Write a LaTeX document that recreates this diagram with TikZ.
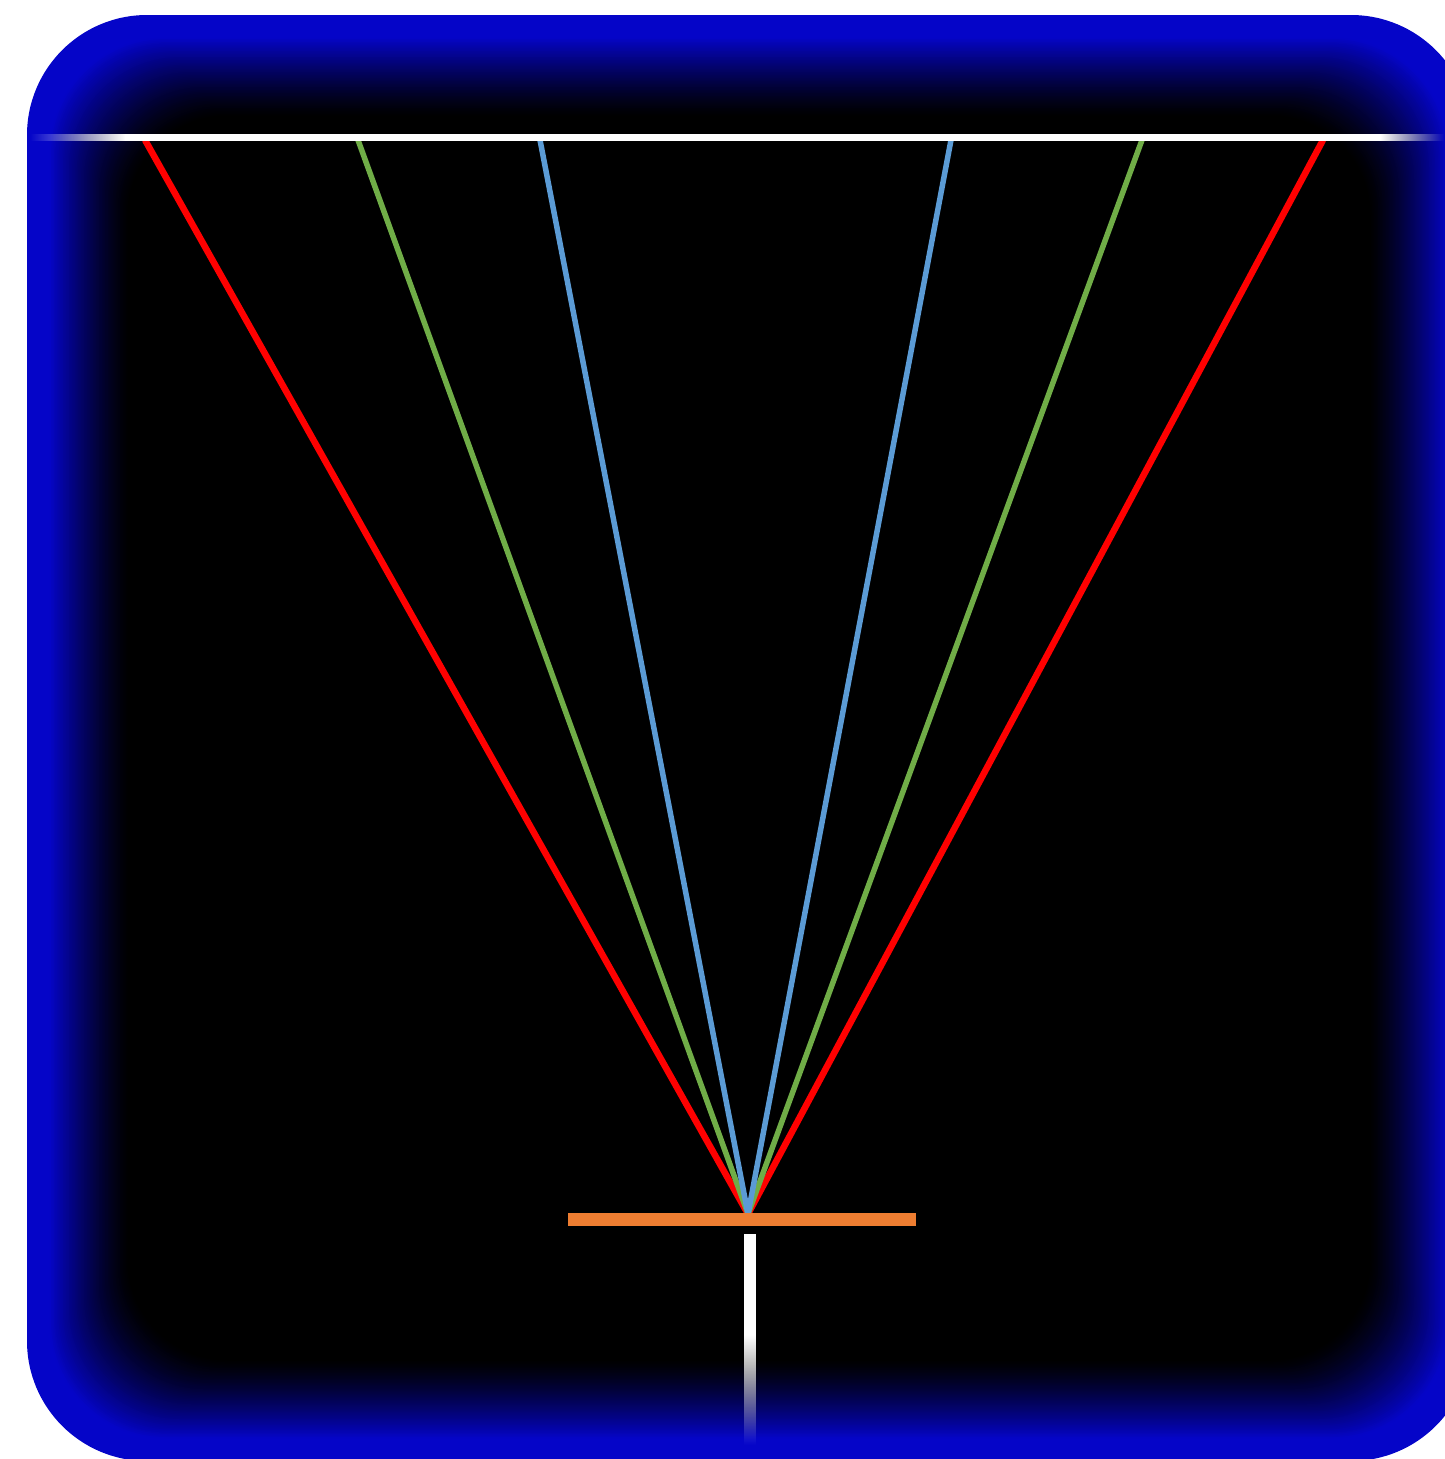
\documentclass[tikz,border=0pt]{standalone}
\usetikzlibrary{fadings}
\definecolor{bblue}{RGB}{5,5,200}
\definecolor{rayred}{RGB}{255,0,0}
\definecolor{raygreen}{RGB}{112,173,71}
\definecolor{rayblue}{RGB}{91,155,213}
\definecolor{barorange}{RGB}{237,125,49}
\tikzfading[name=fadeL, left color=transparent!100, right color=transparent!0]
\tikzfading[name=fadeR, left color=transparent!0, right color=transparent!100]
\tikzfading[name=fadeD, top color=transparent!0, bottom color=transparent!100]
\begin{document}
\begin{tikzpicture}[x=1pt,y=-1pt,
  redray/.style={draw=rayred, line width=6.5pt},
  greenray/.style={draw=raygreen, line width=5.5pt},
  blueray/.style={draw=rayblue, line width=5.5pt},
  whiteline/.style={fill=white}]
\useasboundingbox (0,0) rectangle (1444,1459);
\fill[white] (0,0) rectangle (1444,1459);
% frame with inner glow
\fill[bblue, rounded corners=120pt] (27,15) rectangle (1471,1461);
\foreach \d in {18,19.5,...,106} {
  \pgfmathsetmacro{\t}{min(max((\d-22)/80,0),1)}
  \pgfmathtruncatemacro{\p}{100*(1-\t)^1.3}
  \pgfmathsetmacro{\r}{120-0.2*\d}
  \fill[bblue!\p!black, rounded corners=\r pt] (27+\d,15+\d) rectangle (1471-\d,1461-\d);
}
% coordinates
\coordinate (apex) at (748,1214);
\coordinate (r1) at (145,140);
\coordinate (g1) at (358,140);
\coordinate (b1) at (540,140);
\coordinate (b2) at (951,140);
\coordinate (g2) at (1142,140);
\coordinate (r2) at (1323,140);
% rays
\draw[redray] (r1) -- (apex);
\draw[redray] (r2) -- (apex);
\draw[greenray] (g1) -- (apex);
\draw[greenray] (g2) -- (apex);
\draw[blueray] (b1) -- (apex);
\draw[blueray] (b2) -- (apex);
% top white line
\fill[whiteline, path fading=fadeL] (30,134) rectangle (125,141);
\fill[whiteline] (125,134) rectangle (1380,141);
\fill[whiteline, path fading=fadeR] (1380,134) rectangle (1444,141);
% orange bar
\fill[barorange] (568,1213) rectangle (916,1226);
% vertical white bar
\fill[whiteline] (744,1234) rectangle (756,1335);
\fill[whiteline, path fading=fadeD] (744,1335) rectangle (756,1445);
\end{tikzpicture}
\end{document}
